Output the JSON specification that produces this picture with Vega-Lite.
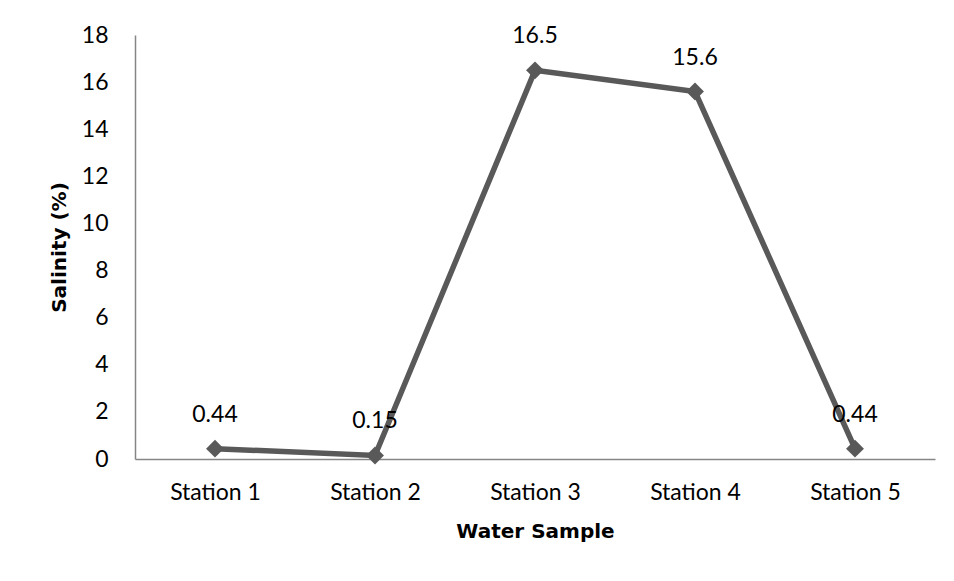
{
  "$schema": "https://vega.github.io/schema/vega-lite/v6.json",
  "width": 800,
  "height": 424,
  "autosize": {"type": "none"},
  "padding": {"left": 135, "top": 35, "right": 19, "bottom": 122},
  "background": "white",
  "config": {
    "view": {"stroke": null},
    "font": "Lato",
    "axis": {"labelFont": "Lato", "titleFont": "DejaVu Sans", "labelColor": "#000000", "titleColor": "#000000"}
  },
  "data": {
    "values": [
      {"station": "Station 1", "salinity": 0.44},
      {"station": "Station 2", "salinity": 0.15},
      {"station": "Station 3", "salinity": 16.5},
      {"station": "Station 4", "salinity": 15.6},
      {"station": "Station 5", "salinity": 0.44}
    ]
  },
  "encoding": {
    "x": {
      "field": "station",
      "type": "nominal",
      "sort": null,
      "scale": {"type": "point", "padding": 0.5},
      "axis": {
        "title": "Water Sample",
        "titleFontSize": 20,
        "titleFontWeight": "bold",
        "titlePadding": 17,
        "labelAngle": 0,
        "labelFontSize": 23,
        "labelPadding": 22,
        "ticks": false,
        "tickSize": 0,
        "domainColor": "#868686",
        "domainWidth": 1.5,
        "grid": false
      }
    },
    "y": {
      "field": "salinity",
      "type": "quantitative",
      "scale": {"domain": [0, 18], "nice": false},
      "axis": {
        "title": "Salinity (%)",
        "titleFontSize": 20,
        "titleFontWeight": "bold",
        "titlePadding": 12,
        "values": [0, 2, 4, 6, 8, 10, 12, 14, 16, 18],
        "labelFontSize": 23,
        "labelPadding": 27,
        "ticks": false,
        "tickSize": 0,
        "domainColor": "#868686",
        "domainWidth": 1.5,
        "grid": false
      }
    }
  },
  "layer": [
    {
      "mark": {"type": "line", "color": "#595959", "strokeWidth": 5.5}
    },
    {
      "mark": {"type": "point", "shape": "diamond", "filled": true, "opacity": 1, "color": "#595959", "size": 320}
    },
    {
      "mark": {"type": "text", "dy": -34, "baseline": "middle", "align": "center", "fontSize": 23, "color": "#000000", "font": "Lato"},
      "encoding": {"text": {"field": "salinity", "type": "quantitative"}}
    }
  ]
}
